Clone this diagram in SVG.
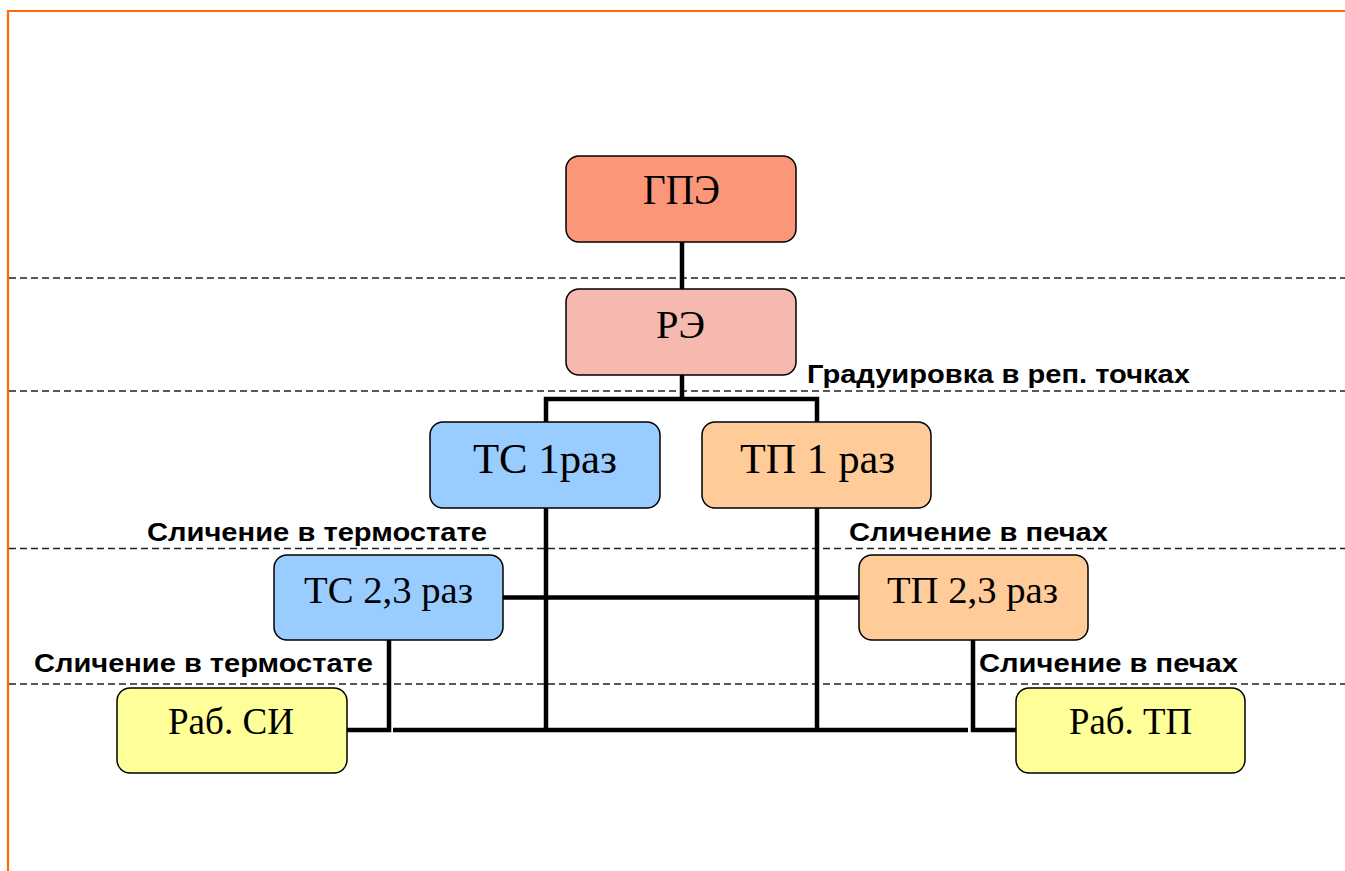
<svg xmlns="http://www.w3.org/2000/svg" width="1345" height="871" viewBox="0 0 1345 871">
<style>
.frame{fill:none;stroke:#FF6A00;stroke-width:2.2}
.dash{stroke:#222;stroke-width:1.3;stroke-dasharray:7 4;fill:none}
.box{stroke:#000;stroke-width:1.5}
.nt{font-family:"Liberation Serif","Times New Roman",serif;fill:#000;text-anchor:start}
.lb{font-family:"Liberation Sans",Arial,sans-serif;font-weight:bold;font-size:25px;fill:#000}
.con{stroke:#000;stroke-width:4.5;fill:none;stroke-linecap:butt}
</style>
<rect width="1345" height="871" fill="#fff"/>
<path class="frame" d="M8 871 V11 H1345"/>
<g id="dashes">
<line class="dash" x1="9" y1="278" x2="1345" y2="278"/>
<line class="dash" x1="9" y1="391" x2="1345" y2="391"/>
<line class="dash" x1="9" y1="548.5" x2="1345" y2="548.5"/>
<line class="dash" x1="9" y1="684" x2="1345" y2="684"/>
</g>
<g id="connectors">
<line class="con" x1="682" y1="242" x2="682" y2="289"/>
<line class="con" x1="682" y1="375" x2="682" y2="399"/>
<path class="con" d="M546 422 V399 H817 V422"/>
<line class="con" x1="546" y1="508" x2="546" y2="732"/>
<line class="con" x1="817" y1="508" x2="817" y2="732"/>
<line class="con" x1="503" y1="597.5" x2="859" y2="597.5"/>
<path class="con" d="M347 730 H389 V640"/>
<line class="con" x1="393" y1="730" x2="968" y2="730"/>
<path class="con" d="M973 640 V730 H1016"/>
</g>
<g id="n-gpe">
<rect class="box" x="566" y="156" width="230" height="86" rx="13" fill="#FB9679"/>
<text class="nt" x="643" y="204" font-size="42" textLength="77" lengthAdjust="spacingAndGlyphs">ГПЭ</text>
</g>
<g id="n-re">
<rect class="box" x="566" y="289" width="230" height="86" rx="13" fill="#F6B9AF"/>
<text class="nt" x="656" y="338" font-size="39" textLength="49" lengthAdjust="spacingAndGlyphs">РЭ</text>
</g>
<g id="n-ts1">
<rect class="box" x="430" y="422" width="230" height="86" rx="13" fill="#99CCFF"/>
<text class="nt" x="473" y="473" font-size="43" textLength="144" lengthAdjust="spacingAndGlyphs">ТС 1раз</text>
</g>
<g id="n-tp1">
<rect class="box" x="702" y="422" width="229" height="86" rx="13" fill="#FFCC99"/>
<text class="nt" x="740" y="473" font-size="43" textLength="155" lengthAdjust="spacingAndGlyphs">ТП 1 раз</text>
</g>
<g id="n-ts23">
<rect class="box" x="274" y="555" width="229" height="85" rx="13" fill="#99CCFF"/>
<text class="nt" x="304" y="603" font-size="37" textLength="169" lengthAdjust="spacingAndGlyphs">ТС 2,3 раз</text>
</g>
<g id="n-tp23">
<rect class="box" x="859" y="555" width="229" height="85" rx="13" fill="#FFCC99"/>
<text class="nt" x="887" y="603" font-size="37" textLength="171" lengthAdjust="spacingAndGlyphs">ТП 2,3 раз</text>
</g>
<g id="n-rabsi">
<rect class="box" x="117" y="688" width="230" height="85" rx="13" fill="#FFFF99"/>
<text class="nt" x="168" y="734" font-size="38" textLength="126" lengthAdjust="spacingAndGlyphs">Раб. СИ</text>
</g>
<g id="n-rabtp">
<rect class="box" x="1016" y="688" width="229" height="85" rx="13" fill="#FFFF99"/>
<text class="nt" x="1069" y="734" font-size="38" textLength="123" lengthAdjust="spacingAndGlyphs">Раб. ТП</text>
</g>
<g id="labels">
<text class="lb" x="807" y="383" textLength="383" lengthAdjust="spacingAndGlyphs">Градуировка в реп. точках</text>
<text class="lb" x="147" y="541" textLength="340" lengthAdjust="spacingAndGlyphs">Сличение в термостате</text>
<text class="lb" x="849" y="541" textLength="259" lengthAdjust="spacingAndGlyphs">Сличение в печах</text>
<text class="lb" x="34" y="672" textLength="339" lengthAdjust="spacingAndGlyphs">Сличение в термостате</text>
<text class="lb" x="979" y="672" textLength="259" lengthAdjust="spacingAndGlyphs">Сличение в печах</text>
</g>
</svg>
